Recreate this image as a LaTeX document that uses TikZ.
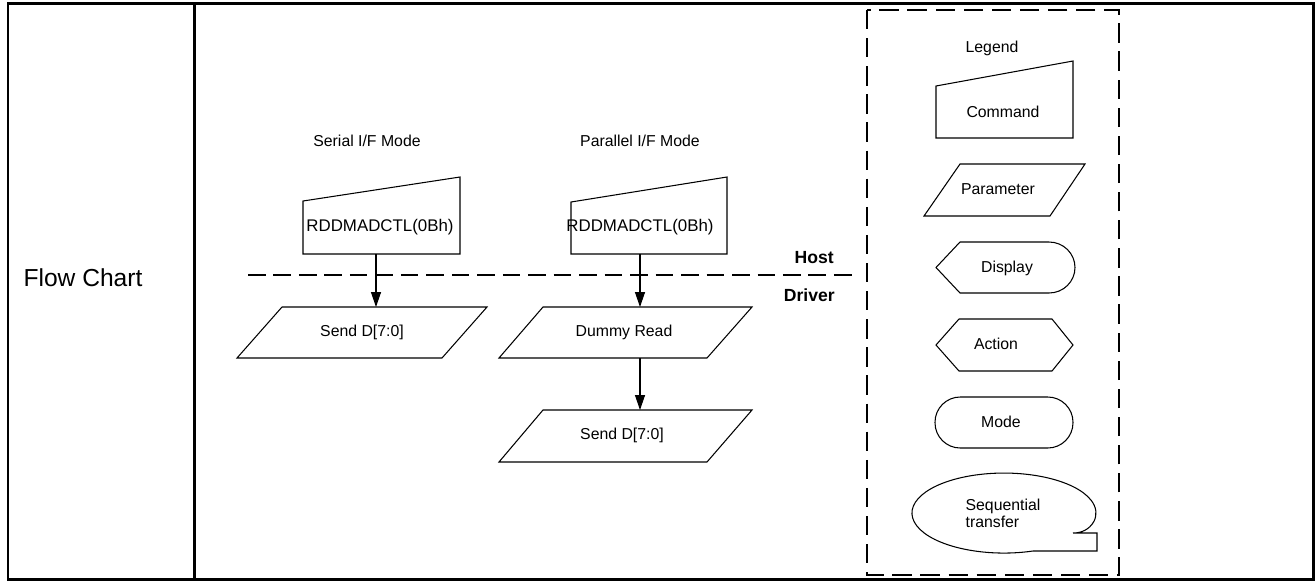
\documentclass[tikz,border=0pt]{standalone}
\usepackage{fontspec}
\setmainfont{Liberation Sans}
\usetikzlibrary{arrows.meta,calc}
\tikzset{
  shp/.style={draw=black,line width=0.6pt,line join=miter},
  txt/.style={inner sep=0pt,font=\fontsize{9}{10.8}\selectfont},
  cmdtxt/.style={inner sep=0pt,font=\fontsize{9.6}{11}\selectfont},
  hd/.style={inner sep=0pt,font=\fontsize{10}{12}\selectfont\bfseries},
  arr/.style={line width=0.6pt,-{Triangle[length=8.5pt,width=5.7pt]}},
  sep/.style={line width=0.6pt,dash pattern=on 10pt off 4.5pt},
  legbox/.style={line width=0.6pt,dash pattern=on 11pt off 5pt}
}
\begin{document}
\begin{tikzpicture}[x=0.02cm,y=-0.02cm]
\useasboundingbox (0,0) rectangle (1316,583);
% table frame
\draw[line width=1.7pt] (8,3) rectangle (1313,579);
\draw[line width=1.4pt] (194.5,3) -- (194.5,579);
\node[inner sep=0pt,font=\fontsize{14}{16}\selectfont] (fc) at (83,278) {Flow Chart};

% host/driver separator
\coordinate (sepL) at (248,275);
\coordinate (sepR) at (853,275);
\draw[sep] (sepL) -- (sepR);
\node[hd,anchor=east] (host) at (834,258) {Host};
\node[hd,anchor=east] (drv) at (835,295) {Driver};

% serial column
\node[txt] (sermode) at (367,141) {Serial I/F Mode};
\draw[shp] (303,201) -- (460,177) -- (460,254) -- (303,254) -- cycle;
\node[cmdtxt] (cmdA) at (380,227) {RDDMADCTL(0Bh)};
\draw[shp] (282,307) -- (487,307) -- (442,358) -- (237,358) -- cycle;
\node[txt] (sendA) at (362,332) {Send D[7:0]};
\coordinate (cmdAout) at (376,254);
\coordinate (sendAin) at (376,307);
\draw[arr] (cmdAout) -- (sendAin);

% parallel column
\node[txt] (parmode) at (640,141) {Parallel I/F Mode};
\draw[shp] (571,202) -- (727,177) -- (727,254) -- (571,254) -- cycle;
\node[cmdtxt] (cmdB) at (640,227) {RDDMADCTL(0Bh)};
\draw[shp] (543,307) -- (752,307) -- (707,358) -- (499,358) -- cycle;
\node[txt] (dummy) at (624,332) {Dummy Read};
\draw[shp] (543,410) -- (752,410) -- (707,462) -- (499,462) -- cycle;
\node[txt] (sendB) at (622,435) {Send D[7:0]};
\coordinate (cmdBout) at (640,254);
\coordinate (dummyin) at (640,307);
\coordinate (dummyout) at (640,358);
\coordinate (sendBin) at (640,410);
\draw[arr] (cmdBout) -- (dummyin);
\draw[arr] (dummyout) -- (sendBin);

% legend
\draw[legbox] (867,10) rectangle (1119,575);
\node[txt] (leg) at (992,48) {Legend};
\draw[shp] (936,86) -- (1073,61) -- (1073,138) -- (936,138) -- cycle;
\node[txt] (lcmd) at (1003,112) {Command};
\draw[shp] (960,164) -- (1085,164) -- (1050,216) -- (924,216) -- cycle;
\node[txt] (lpar) at (998,189) {Parameter};
\draw[shp] (936,267.5) -- (960,242) -- (1049,242)
  arc[start angle=-90,end angle=90,x radius=26,y radius=25.5]
  -- (960,293) -- cycle;
\node[txt] (ldisp) at (1007,268) {Display};
\draw[shp] (936,345) -- (959,319) -- (1052,319) -- (1073,345) -- (1052,371) -- (959,371) -- cycle;
\node[txt] (lact) at (996,344) {Action};
\draw[shp,rounded corners=0.505cm] (935,397) rectangle (1073,448);
\node[txt] (lmode) at (1001,422) {Mode};
\draw[shp] (1073,533) -- (1097,533) -- (1097,551) -- (1033,551)
  arc[start angle=71.6,end angle=372,x radius=92,y radius=40]
  .. controls (1089,530) and (1081,533) .. (1073,533);
\node[txt,align=left,font=\fontsize{9}{9.8}\selectfont] (lseq) at (1003,513) {Sequential\\transfer};
\end{tikzpicture}
\end{document}
